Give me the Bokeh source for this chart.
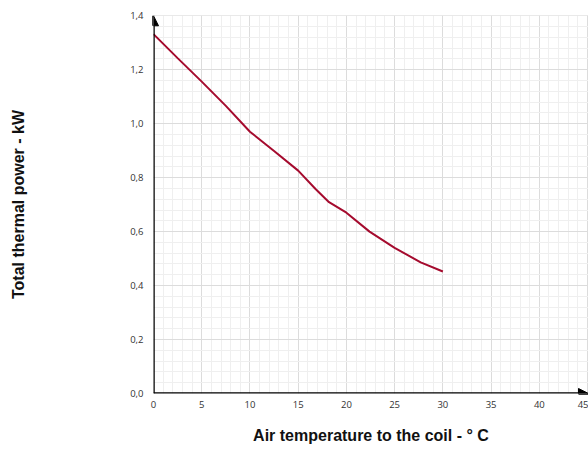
from bokeh.plotting import figure
from bokeh.models import (Range1d, SingleIntervalTicker, Arrow, NormalHead,
                          CustomJSTickFormatter)
from bokeh.embed import file_html
from bokeh.resources import INLINE

# Data
air_temp_c = [0, 2.5, 5, 7.5, 10, 12.5, 15, 16.8, 18.2, 20, 22.4, 25, 27.7, 30]
thermal_kw = [1.332, 1.243, 1.156, 1.066, 0.970, 0.899, 0.826, 0.758, 0.709,
              0.670, 0.600, 0.540, 0.486, 0.452]

x_label = "Air temperature to the coil - ° C"
y_label = "Total thermal power - kW"

p = figure(width=588, height=448, output_backend="svg", toolbar_location=None,
           x_range=Range1d(0, 45.1), y_range=Range1d(0, 1.401),
           min_border_left=153, min_border_right=0, min_border_top=15,
           min_border_bottom=55)
p.outline_line_color = None
p.background_fill_color = "white"

p.line(air_temp_c, thermal_kw, line_color="#a50b2e", line_width=2)

xt = SingleIntervalTicker(interval=5, num_minor_ticks=5)
yt = SingleIntervalTicker(interval=0.2, num_minor_ticks=5)
p.xaxis.ticker = xt
p.yaxis.ticker = yt
p.xgrid.ticker = xt
p.ygrid.ticker = yt

for g in (p.xgrid, p.ygrid):
    g.grid_line_color = "#dcdcdc"
    g.grid_line_width = 1
    g.minor_grid_line_color = "#efefef"
    g.minor_grid_line_width = 1

p.yaxis.formatter = CustomJSTickFormatter(code="return tick.toFixed(1).replace('.', ',');")
p.xaxis.formatter = CustomJSTickFormatter(code="return tick.toFixed(0);")

for ax in (p.xaxis, p.yaxis):
    ax.axis_line_color = None
    ax.major_tick_line_color = None
    ax.minor_tick_line_color = None
    ax.major_tick_out = 0
    ax.major_tick_in = 0
    ax.minor_tick_out = 0
    ax.minor_tick_in = 0
    ax.major_label_text_font = "Open Sans"
    ax.major_label_text_font_size = "9.5px"
    ax.major_label_text_color = "#333333"
    ax.axis_label_text_font = "Liberation Sans"
    ax.axis_label_text_font_style = "bold"
    ax.axis_label_text_font_size = "16px"
    ax.axis_label_text_color = "#111111"

p.xaxis.axis_label = x_label
p.yaxis.axis_label = y_label
p.xaxis.major_label_standoff = 7
p.yaxis.major_label_standoff = 10
p.xaxis.axis_label_standoff = 16
p.yaxis.axis_label_standoff = 100

head_y = NormalHead(size=10, fill_color="black", line_color="black")
head_x = NormalHead(size=10, fill_color="black", line_color="black")
p.add_layout(Arrow(end=head_y, x_start=0, y_start=0, x_end=0, y_end=1.4,
                   line_width=2.5, line_color="black"))
p.add_layout(Arrow(end=head_x, x_start=0, y_start=0, x_end=45.1, y_end=0,
                   line_width=2.5, line_color="black"))

open("out.html", "w").write(file_html(p, INLINE))
